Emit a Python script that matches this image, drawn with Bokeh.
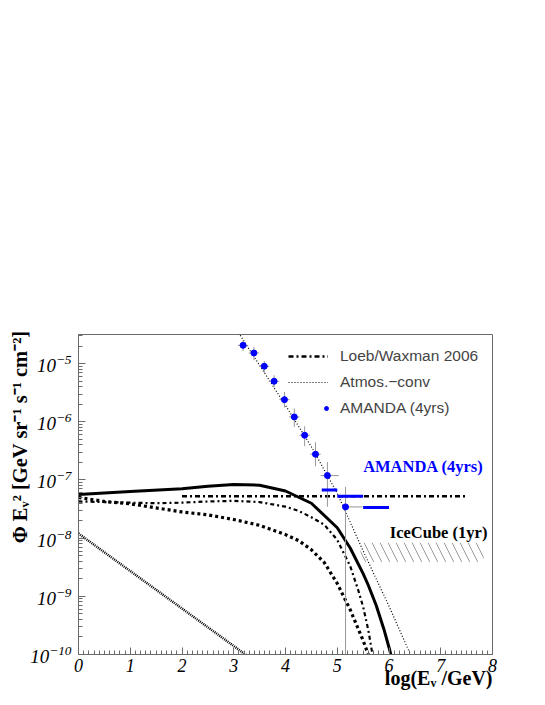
from bokeh.plotting import figure
from bokeh.models import (ColumnDataSource, Label, Legend, LegendItem, Title,
                          FixedTicker, SingleIntervalTicker, LogTickFormatter)
from bokeh.core.properties import value
from bokeh.embed import file_html
from bokeh.resources import INLINE

# ---------------- data ----------------
x_ticks = [0, 1, 2, 3, 4, 5, 6, 7, 8]
y_exponents = [-10, -9, -8, -7, -6, -5]

# solid thick curve
total_x = [0, 1, 2, 2.5, 3, 3.5, 4, 4.5, 5, 5.25, 5.5, 5.6, 5.75, 5.9, 6, 6.05]
total_y = [5.62e-8, 6.31e-8, 7.08e-8, 7.76e-8, 8.32e-8, 8.13e-8, 6.46e-8, 3.98e-8,
           1.51e-8, 6.76e-9, 2.45e-9, 1.55e-9, 7.08e-10, 2.75e-10, 1.32e-10, 8.9e-11]

# dash-dot curve
curveA_x = [0, 0.5, 1, 1.5, 2, 2.5, 3, 3.5, 4, 4.25, 4.5, 4.75, 5, 5.25, 5.4, 5.5, 5.6, 5.7]
curveA_y = [4.27e-8, 4.17e-8, 4.07e-8, 3.98e-8, 4.07e-8, 4.27e-8, 4.37e-8, 4.17e-8,
            3.47e-8, 2.95e-8, 2.29e-8, 1.70e-8, 9.33e-9, 3.31e-9, 1.32e-9, 6.61e-10,
            2.63e-10, 7.94e-11]

# heavy dotted curve
curveB_x = [0, 0.5, 1, 1.5, 2, 2.5, 3, 3.5, 4, 4.25, 4.5, 4.75, 5, 5.25, 5.5, 5.62]
curveB_y = [5.01e-8, 4.27e-8, 3.89e-8, 3.31e-8, 2.82e-8, 2.51e-8, 2.09e-8, 1.66e-8,
            1.15e-8, 9.12e-9, 6.31e-9, 3.80e-9, 1.66e-9, 5.89e-10, 1.74e-10, 8.9e-11]

# Loeb/Waxman 2006
lw_x = [2.0, 7.5]
lw_y = [5.25e-8, 5.25e-8]

# Atmos.-conv
atm_x = [3.0, 3.5, 4.0, 4.5, 5.0, 5.5, 6.0, 6.5]
atm_y = [4.57e-5, 9.33e-6, 1.91e-6, 3.72e-7, 5.89e-8, 6.03e-9, 6.76e-10, 6.76e-11]

# low dotted line at left
low_x = [0, 1, 2, 3, 3.5]
low_y = [1.2e-8, 2.72e-9, 6.17e-10, 1.40e-10, 6.6e-11]

# AMANDA (4yrs) points
pts_x = [3.18, 3.39, 3.59, 3.78, 3.98, 4.17, 4.37, 4.58, 4.81, 5.16]
pts_y = [2.06e-5, 1.52e-5, 9.0e-6, 4.97e-6, 2.40e-6, 1.21e-6, 5.86e-7, 2.77e-7, 1.19e-7, 3.44e-8]
pts_yhi = [2.51e-5, 1.93e-5, 1.11e-5, 6.30e-6, 3.25e-6, 1.69e-6, 8.38e-7, 4.45e-7, 2.04e-7, 7.59e-8]
pts_ylo = [1.64e-5, 1.14e-5, 6.89e-6, 3.87e-6, 1.75e-6, 8.15e-7, 3.79e-7, 1.72e-7, 3.44e-8, 1e-11]
pts_xlo = [3.08, 3.29, 3.49, 3.68, 3.88, 4.07, 4.27, 4.48, 4.68, 5.11]
pts_xhi = [3.28, 3.49, 3.69, 3.88, 4.08, 4.27, 4.47, 4.68, 5.03, 5.49]

# AMANDA (4yrs) limit steps
lim_x0 = [4.7, 5.0, 5.5]
lim_x1 = [5.0, 5.5, 6.0]
lim_y = [6.73e-8, 5.25e-8, 3.36e-8]

# IceCube (1yr) band
ic_x = [5.45, 7.83]
ic_y = [3.9e-9, 8.3e-9]

x_title = "log(E\u1d65 /GeV)"
y_title = "\u03a6 E\u1d65\u00b2 [GeV sr\u207b\u00b9 s\u207b\u00b9 cm\u207b\u00b2]"

GRAY = "#6a6a6a"
SERIF = "Liberation Serif"

p = figure(frame_width=414, frame_height=320,
           min_border_left=78, min_border_right=45, min_border_top=334, min_border_bottom=45,
           x_range=(0, 8), y_range=(1e-10, 10 ** -4.5), y_axis_type="log",
           output_backend="svg", toolbar_location=None)
p.outline_line_color = GRAY
p.xgrid.visible = False
p.ygrid.visible = False

# axes
p.xaxis.ticker = SingleIntervalTicker(interval=1, num_minor_ticks=10)
p.yaxis.ticker = FixedTicker(ticks=[10.0 ** e for e in y_exponents],
                             minor_ticks=[m * 10.0 ** e for e in range(-11, -4) for m in range(2, 10)])
p.yaxis.formatter = LogTickFormatter()
for ax in (p.xaxis[0], p.yaxis[0]):
    ax.axis_line_color = GRAY
    ax.major_tick_line_color = GRAY
    ax.minor_tick_line_color = GRAY
    ax.major_tick_in = 7
    ax.major_tick_out = 0
    ax.minor_tick_in = 4
    ax.minor_tick_out = 0
    ax.major_label_text_font = SERIF
    ax.major_label_text_font_style = "italic"
    ax.major_label_text_color = "black"
p.xaxis.major_label_text_font_size = "18px"
p.xaxis.major_label_standoff = 4
p.yaxis.major_label_text_font_size = "19px"
p.yaxis.major_label_standoff = 7

# axis titles, right-aligned to the axis ends (as in the reference)
tx = Title(text=x_title, align="right", vertical_align="top", offset=0,
           text_font=SERIF, text_font_style="bold", text_font_size="20px", text_color="black")
ty = Title(text=y_title, align="right", vertical_align="bottom", offset=-4,
           text_font=SERIF, text_font_style="bold", text_font_size="20.5px", text_color="black")
try:
    tx.standoff = -16
except Exception:
    tx.standoff = 0
try:
    ty.standoff = -6
except Exception:
    ty.standoff = 0
p.add_layout(tx, "below")
p.add_layout(ty, "left")

# curves
r_low = p.line(low_x, low_y, line_color="black", line_width=2.5, line_dash="1 1")
r_B = p.line(curveB_x, curveB_y, line_color="black", line_width=3.2, line_dash="3 3")
r_A = p.line(curveA_x, curveA_y, line_color="black", line_width=2.2, line_dash="4 3 2 3")
r_lw = p.line(lw_x, lw_y, line_color="black", line_width=2.5, line_dash="5 3 2 3")
r_tot = p.line(total_x, total_y, line_color="black", line_width=3)
r_atm = p.line(atm_x, atm_y, line_color="black", line_width=1.2, line_dash="1 2")

# IceCube hatched band
p.quad(left=[ic_x[0]], right=[ic_x[1]], bottom=[ic_y[0]], top=[ic_y[1]],
       fill_alpha=0, line_color=None, hatch_pattern="left_diagonal_line",
       hatch_color="#9a9a9a", hatch_scale=16, hatch_weight=1)

# AMANDA points with error bars
pts = ColumnDataSource(dict(x=pts_x, y=pts_y, ylo=pts_ylo, yhi=pts_yhi, xlo=pts_xlo, xhi=pts_xhi))
p.segment(x0="x", y0="ylo", x1="x", y1="yhi", source=pts, line_color="#999999", line_width=1)
p.segment(x0="xlo", y0="y", x1="xhi", y1="y", source=pts, line_color="#999999", line_width=1)
r_pts = p.scatter("x", "y", source=pts, size=6, color="blue")

# AMANDA limit
p.segment(x0=lim_x0, y0=lim_y, x1=lim_x1, y1=lim_y, line_color="blue", line_width=3)

# in-plot texts
p.add_layout(Label(x=5.50, y=1.67e-7, text="AMANDA (4yrs)", text_font=SERIF,
                   text_font_style="bold", text_font_size="16.5px", text_color="blue",
                   text_baseline="middle", text_align="left"))
p.add_layout(Label(x=6.015, y=1.25e-8, text="IceCube (1yr)", text_font=SERIF,
                   text_font_style="bold", text_font_size="16.5px", text_color="black",
                   text_baseline="middle", text_align="left"))

# legend (lines) and legend (marker, drawn at the right end of the sample area)
common = dict(border_line_color=None, background_fill_alpha=0,
              label_text_font="Liberation Sans", label_text_font_size="15.5px",
              glyph_height=20, label_height=20, spacing=6, padding=0, margin=0)
leg1 = Legend(items=[LegendItem(label=value("Loeb/Waxman 2006"), renderers=[r_lw]),
                     LegendItem(label=value("Atmos.\u2212conv"), renderers=[r_atm])],
              location=(210, 262), glyph_width=40, label_standoff=12, **common)
leg2 = Legend(items=[LegendItem(label=value("AMANDA (4yrs)"), renderers=[r_pts])],
              location=(243, 236), glyph_width=10, label_standoff=9, **common)
p.add_layout(leg1)
p.add_layout(leg2)

open("out.html", "w").write(file_html(p, INLINE))
